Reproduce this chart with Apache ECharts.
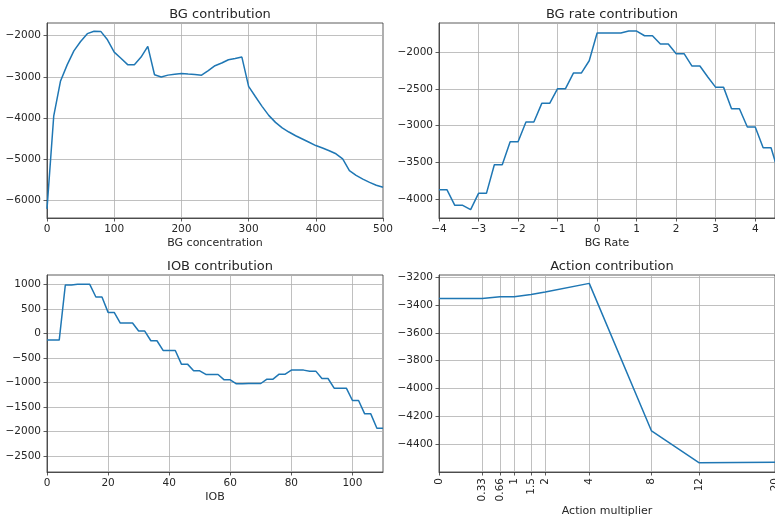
<!DOCTYPE html>
<html>
<head>
<meta charset="utf-8">
<script src="https://cdn.jsdelivr.net/npm/echarts@6/dist/echarts.min.js"></script>
<style>
  html, body { margin: 0; padding: 0; background: #fff; }
  #main { width: 775px; height: 518px; }
</style>
</head>
<body>
<div id="main"></div>
<script>
// BG contribution
var bgConc = [0, 10, 20, 30, 40, 50, 60, 70, 80, 90, 100, 110, 120, 130, 140, 150, 160, 170, 180, 190, 200,
  210, 220, 230, 240, 250, 260, 270, 280, 290, 300, 310, 320, 330, 340, 350, 360, 370, 380, 390, 400,
  410, 420, 430, 440, 450, 460, 470, 480, 490, 500];
var bgContrib = [-6215, -3960, -3110, -2710, -2370, -2140, -1950, -1890, -1895, -2100, -2400,
  -2550, -2705, -2705, -2520, -2260, -2950, -3005, -2960, -2940, -2920,
  -2935, -2945, -2960, -2850, -2730, -2665, -2585, -2555, -2520, -3235,
  -3480, -3720, -3940, -4110, -4245, -4345, -4435, -4515, -4595, -4675,
  -4735, -4800, -4875, -5000, -5285, -5400, -5490, -5570, -5640, -5690];

// BG rate contribution
var bgRate = [-4, -3.8, -3.6, -3.4, -3.2, -3, -2.8, -2.6, -2.4, -2.2, -2, -1.8, -1.6, -1.4, -1.2, -1,
  -0.8, -0.6, -0.4, -0.2, 0, 0.2, 0.4, 0.6, 0.8, 1, 1.2, 1.4, 1.6, 1.8, 2, 2.2, 2.4, 2.6, 2.8, 3,
  3.2, 3.4, 3.6, 3.8, 4, 4.2, 4.4, 4.6];
var rateContrib = [-3873, -3873, -4086, -4086, -4145, -3923, -3923, -3532, -3532, -3218, -3218,
  -2950, -2950, -2695, -2695, -2495, -2495, -2282, -2282, -2114, -1736, -1736, -1736, -1736,
  -1709, -1709, -1773, -1773, -1886, -1886, -2018, -2018, -2186, -2186, -2335, -2477, -2477,
  -2768, -2768, -3018, -3018, -3300, -3300, -3660];

// IOB contribution
var iob = [0, 2, 4, 6, 8, 10, 12, 14, 16, 18, 20, 22, 24, 26, 28, 30, 32, 34, 36, 38, 40, 42, 44, 46,
  48, 50, 52, 54, 56, 58, 60, 62, 64, 66, 68, 70, 72, 74, 76, 78, 80, 82, 84, 86, 88, 90, 92, 94,
  96, 98, 100, 102, 104, 106, 108, 110];
var iobContrib = [-137, -137, -137, 986, 986, 1000, 1000, 1000, 741, 741, 428, 428, 210, 210, 210,
  47, 47, -150, -150, -348, -348, -348, -627, -627, -763, -763, -838, -838, -838, -947, -947,
  -1029, -1029, -1022, -1022, -1022, -933, -933, -831, -831, -749, -749, -749, -770, -770,
  -920, -920, -1117, -1117, -1117, -1369, -1369, -1641, -1641, -1934, -1934];

// Action contribution (x axis is drawn on a square-root scale)
var actionMult = [0, 0.33, 0.66, 1, 1.5, 2, 4, 8, 12, 20];
var actionContrib = [-3355, -3355, -3341, -3341, -3325, -3308, -3246, -4303, -4531, -4528];

// tick labels
var bgConcTicks = [0, 100, 200, 300, 400, 500];
var bgContribTicks = [-6000, -5000, -4000, -3000, -2000];
var bgRateTicks = [-4, -3, -2, -1, 0, 1, 2, 3, 4];
var rateContribTicks = [-4000, -3500, -3000, -2500, -2000];
var iobTicks = [0, 20, 40, 60, 80, 100];
var iobContribTicks = [-2500, -2000, -1500, -1000, -500, 0, 500, 1000];
var actionContribTicks = [-4400, -4200, -4000, -3800, -3600, -3400, -3200];

var LINE = '#1f77b4';
var FONT = 'DejaVu Sans';

function minus(v) {
  return String(v).replace('-', '\u2212');
}

function pairs(xs, ys, fx) {
  return xs.map(function (x, i) { return [fx ? fx(x) : x, ys[i]]; });
}

function axis(idx, min, max, ticks, name, gap) {
  return {
    type: 'value',
    gridIndex: idx,
    min: min,
    max: max,
    name: name,
    nameLocation: 'middle',
    nameGap: gap,
    nameTextStyle: { fontFamily: FONT, fontSize: 11, color: '#262626' },
    axisLine: { show: true, onZero: false, lineStyle: { color: '#333', width: 0.8 } },
    axisTick: { show: true, inside: false, length: 3.5, customValues: ticks, lineStyle: { color: '#333', width: 0.8 } },
    axisLabel: { customValues: ticks, fontFamily: FONT, fontSize: 10.5, color: '#262626', margin: 6, formatter: minus,
      showMinLabel: true, showMaxLabel: true },
    splitLine: { show: true, lineStyle: { color: '#b0b0b0', width: 0.8 } }
  };
}

var sqrtTicks = actionMult.map(Math.sqrt);

var grids = [
  { left: 47, top: 23, width: 336, height: 195 },
  { left: 439, top: 23, width: 336, height: 195 },
  { left: 47, top: 275, width: 336, height: 197 },
  { left: 439, top: 275, width: 336, height: 197 }
];
grids.forEach(function (g) {
  g.show = true;
  g.borderColor = '#333';
  g.borderWidth = 0.8;
  g.backgroundColor = 'transparent';
  g.containLabel = false;
  g.outerBoundsMode = 'none';
});

var titles = ['BG contribution', 'BG rate contribution', 'IOB contribution', 'Action contribution'];

var actionX = axis(3, 0, Math.sqrt(20), sqrtTicks, 'Action multiplier', 31);
actionX.axisLabel.rotate = 90;
actionX.axisLabel.formatter = function (v) {
  var best = 0;
  sqrtTicks.forEach(function (t, i) {
    if (Math.abs(t - v) < Math.abs(sqrtTicks[best] - v)) best = i;
  });
  return String(actionMult[best]);
};

var option = {
  animation: false,
  backgroundColor: '#fff',
  title: titles.map(function (t, i) {
    var g = grids[i];
    return {
      text: t,
      left: g.left + 168,
      top: g.top - 20,
      textAlign: 'center',
      textStyle: { fontFamily: FONT, fontSize: 13, fontWeight: 'normal', color: '#262626' }
    };
  }),
  grid: grids,
  xAxis: [
    axis(0, 0, 500, bgConcTicks, 'BG concentration', 20),
    axis(1, -4, 4.5, bgRateTicks, 'BG Rate', 20),
    axis(2, 0, 110, iobTicks, 'IOB', 20),
    actionX
  ],
  yAxis: [
    axis(0, -6438, -1691, bgContribTicks, ''),
    axis(1, -4259, -1599, rateContribTicks, ''),
    axis(2, -2826, 1190, iobContribTicks, ''),
    axis(3, -4597, -3186, actionContribTicks, '')
  ],
  series: [
    { type: 'line', xAxisIndex: 0, yAxisIndex: 0, data: pairs(bgConc, bgContrib) },
    { type: 'line', xAxisIndex: 1, yAxisIndex: 1, data: pairs(bgRate, rateContrib) },
    { type: 'line', xAxisIndex: 2, yAxisIndex: 2, data: pairs(iob, iobContrib) },
    { type: 'line', xAxisIndex: 3, yAxisIndex: 3, data: pairs(actionMult, actionContrib, Math.sqrt) }
  ].map(function (s) {
    s.showSymbol = false;
    s.symbol = 'none';
    s.clip = true;
    s.lineStyle = { color: LINE, width: 1.5 };
    return s;
  })
};

var chart = echarts.init(document.getElementById('main'), null, { renderer: 'canvas' });
chart.setOption(option);
</script>
</body>
</html>
